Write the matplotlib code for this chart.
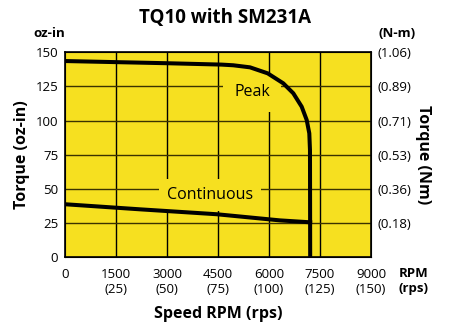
import matplotlib
matplotlib.use("Agg")
import matplotlib.pyplot as plt

plt.rcParams['font.family'] = ['Open Sans', 'DejaVu Sans']

# Data
peak_rpm = [0, 1500, 3000, 3966, 4600, 4946, 5437, 5959, 6418, 6713, 6960, 7107, 7184, 7204, 7210]
peak_torque = [143.6, 142.8, 142.0, 141.4, 141.0, 140.5, 139.0, 134.6, 127.3, 120.0, 110.2, 100.5, 90.7, 78.5, 0.0]
cont_rpm = [0, 2197, 4457, 6321, 7210]
cont_torque = [38.8, 35.1, 31.5, 27.0, 25.6]

x_ticks = [0, 1500, 3000, 4500, 6000, 7500, 9000]
x_labels = ["0", "1500\n(25)", "3000\n(50)", "4500\n(75)", "6000\n(100)", "7500\n(125)", "9000\n(150)"]
y_ticks = [0, 25, 50, 75, 100, 125, 150]
nm_labels = ["", "(0.18)", "(0.36)", "(0.53)", "(0.71)", "(0.89)", "(1.06)"]

yellow = '#F6E020'

fig = plt.figure(figsize=(4.5, 3.31), dpi=100)
ax = fig.add_axes([0.1451, 0.2227, 0.6793, 0.6193])
ax.set_facecolor(yellow)

# grid
for x in x_ticks[1:-1]:
    ax.axvline(x, color='black', lw=1.0, zorder=1)
for y in y_ticks[1:-1]:
    ax.axhline(y, color='#3a3200', lw=1.0, zorder=1)

ax.plot(peak_rpm, peak_torque, color='black', lw=2.9, solid_joinstyle='round', zorder=3)
ax.plot(cont_rpm, cont_torque, color='black', lw=2.9, solid_joinstyle='round', zorder=3)

ax.text(5505, 120.7, "Peak", fontsize=11.5, ha='center', va='center',
        bbox=dict(facecolor=yellow, edgecolor='none', pad=8), zorder=2)
ax.text(4259, 45.6, "Continuous", fontsize=11.5, ha='center', va='center',
        bbox=dict(facecolor=yellow, edgecolor='none', pad=6), zorder=2)

ax.set_xlim(0, 9000)
ax.set_ylim(0, 150)
ax.set_xticks(x_ticks)
ax.set_xticklabels(x_labels, fontsize=9.5, linespacing=1.2)
ax.set_yticks(y_ticks)
ax.set_yticklabels([str(v) for v in y_ticks], fontsize=9.5)
ax.tick_params(length=0, pad=5)
ax.tick_params(axis='x', pad=8)
for s in ax.spines.values():
    s.set_linewidth(1.2)

ax2 = ax.twinx()
ax2.set_ylim(0, 150)
ax2.set_yticks(y_ticks)
ax2.set_yticklabels(nm_labels, fontsize=9.5)
ax2.tick_params(length=0, pad=5)

ax.set_ylabel("Torque (oz-in)", fontsize=11.5, fontweight='bold', labelpad=4)
ax2.set_ylabel("Torque (Nm)", fontsize=11.5, fontweight='bold', rotation=270, labelpad=14)
ax.set_xlabel("Speed RPM (rps)", fontsize=11.5, fontweight='bold', labelpad=7)

fig.text(0.5, 0.945, "TQ10 with SM231A", fontsize=13.5, fontweight='bold', ha='center', va='center')
fig.text(0.11, 0.9, "oz-in", fontsize=9.5, fontweight='bold', ha='center', va='center')
fig.text(0.882, 0.9, "(N-m)", fontsize=9.5, fontweight='bold', ha='center', va='center')
fig.text(0.919, 0.151, "RPM\n(rps)", fontsize=9.5, fontweight='bold', ha='center', va='center', linespacing=1.2)

fig.savefig("out.png", dpi=100, facecolor='white')
